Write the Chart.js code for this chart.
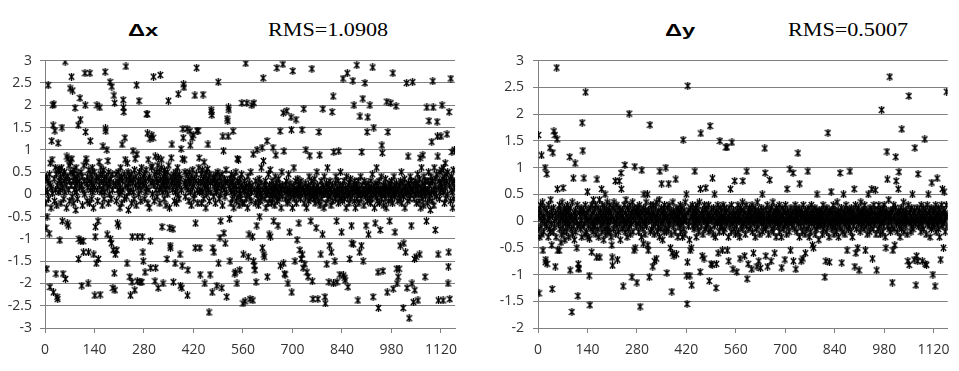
<!DOCTYPE html>
<html>
<head>
<meta charset="utf-8">
<script src="https://cdn.jsdelivr.net/npm/chart.js@4.4.1/dist/chart.umd.min.js"></script>
<style>
html, body { margin: 0; padding: 0; background: #fff; }
body { width: 959px; height: 371px; position: relative; overflow: hidden; }
.box { position: absolute; top: 40px; height: 331px; }
.title { position: absolute; white-space: nowrap; transform-origin: 0 0; line-height: 1; color: #000; }
.delta { font: bold 17px "Liberation Sans", Arial, sans-serif; transform: scaleX(1.4); top: 21px; }
.rms { font: 18px "Liberation Serif", "Times New Roman", serif; transform: scaleX(1.23); top: 20px; }
</style>
</head>
<body>
<div class="title delta" style="left:128px">Δx</div>
<div class="title rms" style="left:268px">RMS=1.0908</div>
<div class="title delta" style="left:665px">Δy</div>
<div class="title rms" style="left:788px">RMS=0.5007</div>
<div class="box" style="left:0;width:470px"><canvas id="chartX"></canvas></div>
<div class="box" style="left:480px;width:479px"><canvas id="chartY"></canvas></div>
<script>
// tick labels
const xTicks = [0, 140, 280, 420, 560, 700, 840, 980, 1120];
const dxTicks = [-3, -2.5, -2, -1.5, -1, -0.5, 0, 0.5, 1, 1.5, 2, 2.5, 3];
const dyTicks = [-2, -1.5, -1, -0.5, 0, 0.5, 1, 1.5, 2, 2.5, 3];

// Δx per point index 0..1159 (40 per row)
const dxValues = [
  0.35,0.1,-0.2,-0.75,0.4,-1.67,-0.5,0.05,0.3,2.45,-0.1,0.25,-0.88,0.45,-2.08,0.7,0.2,-0.3,0.15,1.2,0.78,0.02,2.0,1.55,-2.2,2.02,0.35,-0.15,1.43,0.6,0.1,-1.78,0.45,-0.25,-2.3,0.2,-2.35,1.15,0.55,0.05,
  0.3,0.55,-1.03,0.1,0.4,-0.2,0.25,0.6,1.5,-0.6,0.15,-1.78,0.45,-0.1,0.3,0.5,0.05,2.98,-1.9,0.35,0.2,-0.3,0.85,-0.65,0.4,0.8,-0.7,0.1,0.65,0.3,-0.15,2.38,0.72,0.5,0.2,2.64,0.8,-0.05,2.33,0.45,
  0.3,-0.2,0.55,0.1,0.4,1.94,0.2,-0.35,0.6,0.05,0.35,0.25,-0.1,0.45,1.55,-1.45,-1.0,0.3,0.15,2.16,1.68,-1.05,0.5,0.2,-2.05,0.4,-0.25,0.1,-1.05,-1.3,0.65,0.3,0.0,2.72,2.0,1.4,0.8,0.72,0.25,-0.15,
  0.4,0.15,-2.0,-1.3,0.55,0.3,-0.2,2.72,1.2,0.1,0.45,0.25,-0.1,0.35,0.6,0.05,0.2,-0.3,-1.35,0.5,0.15,-2.27,-0.95,-0.73,0.3,-1.55,0.4,2.0,0.1,-0.15,-0.6,-1.45,0.35,0.73,0.2,1.95,-2.25,0.45,0.6,0.05,
  0.3,0.1,-0.25,0.45,1.08,0.2,0.55,-0.1,0.35,0.05,2.75,1.48,1.42,0.25,0.4,1.0,-0.9,0.15,0.75,-0.2,0.5,0.3,0.0,0.2,2.52,-1.0,0.35,-0.1,-1.1,2.42,0.45,0.1,-2.1,-1.25,0.25,2.22,-1.77,2.05,-2.15,-1.35,
  0.2,0.45,-0.15,-1.25,0.3,-0.65,0.1,0.5,-0.7,0.25,0.0,0.35,-0.3,0.15,0.6,0.05,0.4,-0.2,1.12,0.3,0.1,2.12,1.95,1.85,0.45,-0.1,1.27,0.78,0.2,2.87,0.35,-0.05,-1.55,0.7,0.15,0.5,-0.35,0.25,0.05,0.4,
  -1.85,0.3,-2.27,0.1,0.45,-0.2,-1.97,-0.95,0.25,0.98,0.05,0.35,-0.1,0.55,-2.15,0.8,0.2,0.4,-0.25,2.45,0.9,-1.95,-0.95,0.15,0.3,0.0,2.1,0.5,0.2,-1.97,0.35,-0.15,0.1,0.6,-1.97,-0.95,0.25,-1.3,-1.5,0.4,
  0.2,0.45,-0.1,-1.75,0.3,0.05,0.55,0.15,1.8,1.8,1.37,-0.2,0.78,0.35,0.1,-0.3,0.4,1.25,-1.05,-1.65,0.25,0.6,1.33,0.63,0.0,0.3,1.27,2.64,0.2,-0.15,0.45,-1.95,0.85,-1.65,0.1,0.35,0.5,-0.05,0.25,0.65,
  -2.1,0.82,0.3,0.1,0.5,-0.2,2.68,0.35,0.15,0.6,0.78,-0.73,0.25,0.05,-2.0,0.4,0.2,-0.1,0.55,0.3,0.45,0.1,-0.25,0.35,0.2,-1.45,0.5,0.0,0.3,2.1,0.65,0.15,-0.3,-0.75,-1.15,-1.2,0.4,0.82,0.25,1.12,
  0.3,0.1,-0.78,-1.97,0.45,0.2,-0.15,0.35,-1.55,0.05,0.5,0.25,-0.2,0.4,0.15,0.6,0.0,2.25,0.3,-0.1,0.45,0.2,-1.35,-2.05,0.35,1.02,0.1,-2.1,-1.6,0.8,1.47,1.27,2.47,2.4,0.78,0.25,0.5,-0.05,0.3,0.15,
  0.2,0.45,1.47,-2.27,-1.7,0.1,0.35,-0.15,0.5,0.25,1.42,1.1,0.05,0.3,-0.25,0.4,1.27,0.15,0.55,1.33,0.2,-0.1,0.35,0.0,2.22,-1.2,-0.65,0.3,0.45,2.84,1.43,0.1,-0.2,1.43,0.25,0.6,0.82,0.05,-1.2,-1.8,
  0.3,0.1,0.45,-0.2,0.25,0.55,0.05,2.24,0.35,-0.1,0.72,0.2,-2.0,0.4,0.15,-0.3,0.5,0.0,0.3,0.2,0.57,1.12,0.1,0.35,-2.65,-0.15,0.45,-1.8,0.25,0.05,1.9,1.85,1.78,-2.2,0.3,-1.2,0.4,-0.05,-1.3,0.2,
  0.35,0.1,-0.2,0.45,0.25,0.05,-2.05,0.3,0.15,0.5,2.52,-1.55,0.2,-0.1,0.4,-0.97,0.0,-0.6,0.3,0.15,-2.1,0.45,-0.25,1.3,0.2,0.98,-0.87,0.1,0.35,-0.05,-1.1,0.25,0.55,0.05,-2.3,1.7,0.3,1.65,1.3,1.95,
  1.9,0.2,-0.55,-1.5,0.35,0.1,-0.2,0.45,0.05,0.25,-0.1,0.3,1.42,0.15,-0.3,0.4,0.0,-1.78,-1.75,0.2,0.5,-0.15,0.1,-2.0,0.8,0.3,-0.05,0.78,0.25,-0.25,0.1,-1.7,0.35,0.0,-0.1,0.2,0.45,2.05,0.15,-0.2,
  -2.45,-1.35,0.1,-0.2,0.3,0.05,-2.4,0.15,2.94,-0.1,0.2,2.05,0.0,-0.3,0.4,-1.4,0.1,-0.9,0.25,-0.05,-2.35,0.15,0.5,-0.15,0.05,2.0,0.2,-0.95,-2.38,0.9,-1.5,2.05,-1.6,0.1,-1.7,-0.2,0.3,-1.97,0.0,-0.7,
  1.0,0.15,-0.1,0.2,-0.25,0.05,0.35,-0.5,0.1,0.0,-0.15,0.25,0.6,-0.05,1.05,-1.2,0.1,2.61,0.75,-1.35,-1.4,0.2,-0.1,0.05,0.3,-0.3,0.15,0.0,1.2,-1.85,0.1,-0.2,0.45,0.05,-0.9,0.2,-0.1,0.55,-0.95,0.0,
  0.15,-0.2,0.3,0.05,-0.1,1.05,0.2,-0.6,0.1,0.0,-0.25,0.4,0.15,0.88,-0.05,0.25,2.84,-0.15,0.1,-0.7,0.05,0.35,-0.1,0.2,0.0,1.42,-1.6,0.15,-0.3,0.1,0.5,-0.05,0.2,2.92,1.83,-1.55,0.97,0.1,-1.78,-1.8,
  0.2,-0.1,0.05,0.3,1.87,-0.2,0.1,-2.0,0.0,0.45,-0.15,0.15,-0.85,0.25,0.05,-0.05,1.73,1.45,-2.2,0.1,-0.3,2.77,0.2,0.0,0.6,-0.1,0.15,-1.5,0.05,0.3,1.68,-0.2,0.1,-1.02,0.0,0.35,-0.05,0.2,-0.65,0.1,
  0.05,-1.25,0.2,-0.1,0.3,-1.45,0.0,1.45,-1.35,0.15,-1.65,0.1,1.92,-0.2,0.05,-1.57,0.25,-0.05,1.0,0.15,-0.3,-1.75,0.1,0.0,-1.85,0.2,-0.15,0.4,0.05,0.87,-0.1,0.15,-0.6,0.0,0.3,2.82,-1.95,0.1,-2.35,-0.05,
  0.2,-0.1,0.05,0.35,-0.2,0.1,0.0,-0.75,0.15,0.5,-0.05,0.2,-2.35,0.1,-0.15,1.4,0.05,0.88,-0.25,0.1,-1.35,0.3,0.0,-0.1,0.2,-0.9,1.92,0.05,0.15,-0.3,0.4,0.0,-2.3,-2.45,0.1,-0.2,0.25,-1.57,0.05,0.6,
  -0.1,0.2,0.0,-1.97,0.15,-1.15,0.3,-0.05,0.1,-0.25,-1.3,0.05,1.85,0.2,-0.15,2.2,-2.0,0.95,0.1,0.0,-1.5,0.25,-0.1,0.4,0.05,-0.6,-1.97,0.15,0.0,0.3,-0.2,0.97,0.1,-0.05,-1.8,0.2,0.5,-0.1,0.05,-0.85,
  0.1,-0.15,0.2,2.6,-1.82,0.0,0.3,-0.1,-1.87,-1.93,0.15,0.05,-0.3,0.4,0.1,2.72,-0.05,-2.08,0.2,0.0,-0.2,0.25,-1.45,0.05,0.35,-0.1,0.15,-0.7,-1.1,0.1,0.0,2.55,-1.12,0.2,2.0,-0.15,0.3,0.05,-0.3,0.15,
  0.05,0.2,2.9,-0.1,0.1,-2.38,0.3,0.0,-0.2,0.15,-1.3,1.75,0.05,0.4,-0.1,-1.15,0.95,0.2,0.0,2.15,-1.5,0.1,-0.25,0.3,0.05,2.5,-0.05,0.2,-0.7,0.1,0.0,1.4,-0.15,1.73,0.25,-0.9,0.05,0.15,-0.1,2.0,
  0.1,-0.2,0.3,0.0,0.15,-0.1,0.45,2.85,-2.3,0.05,1.5,0.2,-0.3,0.1,-0.65,0.0,0.25,-0.05,0.6,0.1,-0.15,0.2,-1.75,-2.55,0.05,0.3,-0.2,0.1,-0.8,0.0,0.15,0.4,-0.1,1.1,0.93,0.05,-1.72,0.2,-0.25,0.1,
  0.0,0.2,-0.1,0.35,0.05,-0.3,0.15,2.08,-2.2,0.1,1.4,0.0,-0.15,0.25,0.05,-0.6,0.2,0.1,2.05,-0.1,0.3,0.0,0.15,-0.2,2.72,-2.12,0.05,0.4,-0.05,0.2,-0.85,0.1,0.0,1.98,0.25,-1.67,-2.0,0.1,-0.15,-1.85,
  0.15,0.0,-1.67,0.2,-0.1,-1.15,0.3,0.05,0.5,-0.2,0.1,0.0,0.25,-2.55,-0.05,-1.1,0.15,0.35,-0.3,0.05,-1.3,0.2,0.0,2.5,-2.1,0.1,-0.15,0.85,0.25,0.05,-2.78,0.2,-0.1,0.4,0.0,0.15,-0.7,0.3,-2.0,0.1,
  2.52,0.05,-2.42,0.2,-0.1,-1.45,-2.15,0.3,0.0,0.15,-1.4,-0.2,0.25,0.1,0.45,-2.38,0.0,0.2,-0.15,0.35,-1.35,0.82,0.05,-0.3,0.15,0.6,0.0,-0.1,0.25,0.88,0.1,-0.25,0.4,0.05,0.2,-1.85,-0.05,0.3,0.1,-0.6,
  1.95,0.1,-0.2,0.3,0.05,0.5,1.65,-0.1,0.2,0.0,-0.35,0.25,0.4,0.05,1.18,-0.15,0.3,2.54,1.95,0.1,-0.25,0.6,0.0,0.2,-0.8,0.35,0.1,-0.05,0.45,1.63,1.3,0.85,-1.35,-2.38,0.15,0.3,-0.1,0.5,0.05,0.25,
  1.3,0.2,0.55,2.0,0.1,0.35,-2.38,0.6,0.05,0.4,-0.2,0.25,0.7,0.15,-0.1,0.45,0.3,1.35,0.0,0.5,-2.0,-1.62,-1.3,1.85,0.2,-2.35,0.35,-0.15,2.6,0.1,0.4,0.95,0.05,-0.3,0.25,0.55,-0.1,0.3,1.0,0.15
];

// Δy per point index 0..1159
const dyValues = [
  0.1,1.61,-0.15,-1.35,0.2,-0.3,0.05,0.3,-0.1,0.15,1.23,-0.25,0.0,0.35,-0.55,0.1,-0.2,0.25,0.05,-0.05,1.0,-0.77,-0.72,0.2,-0.1,0.88,-0.8,0.15,0.0,-0.3,0.3,0.05,-0.15,0.1,1.37,-0.2,0.4,-0.05,0.2,-0.45,
  -1.27,0.1,1.28,-0.2,0.25,1.68,0.0,-0.1,1.61,-0.85,0.15,-0.3,0.05,2.87,1.53,0.6,-0.55,0.2,-0.05,0.1,-0.55,0.3,-0.15,0.0,0.2,-0.4,0.1,-0.25,0.35,0.05,-0.1,0.62,0.15,-0.2,0.0,0.25,-0.35,0.1,-0.05,0.2,
  0.05,-0.2,0.15,0.3,-0.1,0.0,0.2,-0.3,0.1,-0.05,1.2,-0.92,0.25,0.05,-0.15,0.1,-1.7,0.35,-0.25,0.0,0.8,-0.1,0.15,-0.35,0.05,1.08,0.2,-0.2,0.1,0.0,-0.5,0.3,-0.1,-1.4,-0.8,-0.88,-0.9,0.15,-0.05,0.2,
  0.1,-0.15,0.25,0.0,-0.3,1.84,0.15,1.32,-0.1,0.2,0.8,-0.05,0.1,-0.25,0.3,2.41,0.05,-0.2,0.15,0.0,0.55,-0.3,0.2,-0.1,0.05,-1.02,-0.33,-1.57,0.25,0.0,-0.15,0.1,-0.58,0.3,-0.05,0.15,-0.2,0.4,0.0,-0.1,
  0.2,-0.1,0.05,0.3,-0.25,0.1,-0.68,0.78,0.0,-0.15,0.25,0.05,-0.3,0.15,0.4,-0.68,0.0,0.2,-0.1,0.1,0.6,-0.2,0.05,0.3,-0.05,0.15,-0.35,0.0,0.25,-0.15,0.5,0.1,-0.25,0.05,0.2,-0.1,0.35,0.0,-0.2,0.15,
  0.05,-0.1,0.2,0.3,-0.2,0.0,0.15,-0.3,0.1,-0.45,-0.68,-0.83,0.25,0.05,-0.15,0.35,0.0,-0.05,0.2,0.75,-0.25,0.1,0.0,0.3,-0.1,-0.72,0.15,0.05,-0.2,0.25,0.75,-0.05,0.1,-0.35,0.2,0.9,0.6,0.0,-0.15,0.1,
  0.2,-1.22,0.05,-0.1,0.3,0.0,1.05,-0.2,0.15,0.4,-0.05,0.1,-0.3,0.25,0.0,-0.15,0.2,0.05,2.01,-0.1,0.3,-0.25,0.1,0.0,0.15,-0.05,-1.05,0.2,0.35,-0.2,0.05,0.1,-0.55,0.25,1.02,-0.5,0.0,0.15,-0.1,0.2,
  -1.15,0.1,0.25,-0.05,0.15,-0.2,0.0,0.3,0.1,-1.6,-0.1,0.2,0.05,-0.3,0.95,0.15,0.0,-0.15,-0.42,0.25,0.5,-0.05,0.1,-0.25,0.2,0.0,0.35,-0.1,0.05,0.15,0.5,-0.45,-0.55,0.2,0.0,-1.05,0.1,1.8,-0.2,0.3,
  0.05,-0.15,0.2,0.0,0.1,-0.85,0.3,-0.1,0.15,-0.25,-0.75,0.05,0.25,-0.05,0.1,-0.7,0.35,0.0,-0.2,0.15,0.05,-0.1,0.2,0.4,-0.3,0.93,0.1,0.0,-0.15,0.25,0.7,-0.05,0.15,-0.35,0.0,0.2,0.1,-0.2,0.3,0.05,
  -0.1,0.15,1.0,0.05,-0.2,-0.97,0.25,0.0,0.1,-0.15,0.7,0.3,-0.05,0.2,0.0,-0.5,0.1,-0.25,0.15,-1.32,-0.6,0.05,0.35,-0.1,0.2,-0.65,0.0,0.15,-0.2,0.1,0.78,0.05,-0.62,0.25,-0.05,0.1,-0.3,0.2,0.0,0.15,
  0.05,-0.1,0.2,0.3,-0.2,0.0,0.15,-0.05,0.25,-0.3,0.1,1.52,0.0,-0.15,0.2,0.05,-0.25,0.35,0.1,0.0,0.5,-1.02,-1.55,-0.77,2.53,0.15,-0.1,0.2,0.0,-0.35,-1.02,-0.55,0.25,0.05,-0.5,-1.2,0.1,0.3,-0.1,0.15,
  0.0,0.2,-0.15,0.1,0.93,-0.05,0.25,0.05,-0.3,0.15,0.0,0.3,-0.1,0.2,0.05,-0.2,0.1,0.35,0.0,-0.95,0.6,1.64,-0.1,0.15,0.05,-0.65,0.2,-0.25,0.1,0.0,-0.7,0.3,0.05,-0.15,0.2,0.62,0.0,-0.1,0.25,0.1,
  -0.05,0.15,0.0,0.3,-0.2,-1.12,0.1,1.78,0.05,-0.15,-0.8,0.2,0.0,-0.82,0.8,0.1,-0.25,0.25,0.05,-0.1,0.5,0.15,-0.3,0.0,-1.25,-0.8,0.2,0.1,-0.05,0.3,-0.6,0.0,0.15,-0.2,0.05,1.5,0.25,-0.1,0.1,0.0,
  0.2,-0.1,-0.55,0.05,0.3,-0.2,0.1,0.0,0.25,-0.15,0.05,0.15,1.38,-0.05,0.2,1.38,-0.55,0.0,0.1,-0.3,-0.75,0.25,0.05,-0.1,0.15,0.6,0.0,-0.2,0.3,1.47,0.1,-0.05,-0.9,0.2,0.0,-0.15,0.1,0.75,0.05,-0.25,
  0.15,0.0,-0.1,-0.95,0.2,0.05,0.3,-0.2,0.1,0.0,0.15,-0.3,-0.7,0.25,0.05,-0.1,0.2,0.0,-0.15,0.35,0.75,0.1,-0.05,0.2,0.0,-0.65,0.15,-0.25,0.05,0.3,-0.1,0.93,-1.08,0.1,0.0,-0.8,0.2,-0.15,0.05,0.25,
  0.0,0.15,-0.1,0.2,0.05,-0.9,0.3,-0.2,0.1,0.0,-0.6,0.25,-0.05,0.15,0.0,-0.3,0.2,0.05,-0.15,0.1,-0.85,0.35,0.0,-0.1,0.2,-0.75,0.1,0.05,-0.25,0.15,-0.88,0.0,0.25,-0.05,0.1,0.5,-0.2,0.05,0.2,-0.1,
  0.1,0.0,1.36,0.9,-0.15,-0.65,0.2,0.05,-0.1,0.3,-0.85,0.0,0.15,-0.25,0.1,0.05,0.77,-0.05,0.2,0.0,-0.75,0.25,-0.15,0.1,0.0,0.35,-0.2,0.05,0.15,-0.1,-0.6,0.2,0.0,0.1,-0.3,0.25,0.05,-0.05,0.15,0.0,
  0.2,-0.1,0.05,0.3,-0.2,0.0,0.15,-0.05,0.1,-0.3,-0.87,0.25,0.0,0.1,-0.15,0.05,0.2,-0.1,0.0,-0.72,0.15,0.3,-0.05,0.1,-0.25,0.6,0.0,0.2,-0.1,0.05,0.15,-0.2,0.0,0.97,0.1,-0.55,0.25,-0.05,0.1,0.0,
  0.15,-0.1,0.9,-0.75,0.05,0.2,0.0,-0.15,0.3,0.1,-0.9,0.0,0.2,-0.2,0.05,0.15,1.27,-0.05,0.1,0.25,-0.3,0.7,0.0,0.15,-0.1,-0.75,0.2,0.05,-0.2,0.1,-0.7,0.3,0.0,-0.1,0.15,0.05,-0.25,-0.6,0.2,0.0,
  0.1,-0.15,0.05,0.2,0.93,0.0,-0.1,0.25,-0.3,0.1,0.0,0.15,-0.2,0.05,0.3,-0.05,0.1,-0.45,0.2,0.0,-0.5,0.15,-0.1,0.05,0.25,-0.25,0.0,0.1,-0.15,0.2,0.5,0.05,-0.1,0.15,0.0,-0.35,0.2,0.1,-0.05,0.0,
  0.15,-0.1,0.0,0.2,0.05,-0.25,0.1,0.3,-0.15,0.0,0.15,-0.05,-1.05,0.2,0.0,-0.75,0.1,-0.2,0.25,0.05,-0.1,1.65,0.15,0.0,-0.3,-0.77,0.2,0.1,-0.05,0.15,0.55,0.0,-0.15,0.2,0.05,-0.1,0.3,0.0,-0.25,0.1,
  0.05,0.2,-0.1,0.0,0.15,-0.2,0.1,0.35,-0.05,0.0,0.2,-0.3,0.1,0.05,-0.1,0.9,0.15,0.0,-0.15,0.25,-0.78,0.05,0.1,-0.2,0.0,0.5,0.15,-0.05,0.2,-0.25,0.1,0.0,0.3,-0.1,0.05,-0.55,0.2,0.0,0.1,-0.15,
  0.2,0.0,-0.1,0.93,0.15,0.05,-0.2,0.25,0.0,0.1,-0.3,0.15,0.05,-0.1,0.2,0.6,0.0,-0.85,0.1,0.3,-0.6,0.05,-0.15,0.2,0.0,-0.5,0.1,0.25,-0.05,-0.92,0.15,0.0,-0.2,0.1,0.35,0.05,-0.1,0.2,0.0,0.15,
  -0.05,0.1,0.2,-0.15,0.0,0.3,0.05,-0.55,0.15,-0.1,0.0,0.2,-0.25,0.1,0.05,0.5,-0.05,0.15,0.0,-0.2,0.25,0.1,-0.1,0.0,0.2,0.6,0.05,-0.7,0.15,-0.15,0.0,0.3,0.1,-0.05,0.2,0.58,0.0,-0.25,0.1,-0.92,
  0.1,0.0,0.2,-0.15,0.05,0.3,-0.1,0.15,0.0,-0.25,0.2,0.1,-0.05,2.08,0.15,0.0,-0.2,0.25,0.05,-0.1,0.3,0.0,0.15,-0.3,0.1,-0.5,0.2,0.05,1.3,0.78,-0.1,0.15,0.0,0.4,-0.15,0.1,2.7,0.05,-0.2,0.2,
  0.0,0.15,-0.1,-1.15,0.2,-0.55,0.05,0.3,-0.15,0.1,-0.45,0.0,0.25,1.2,0.75,-0.05,0.15,-0.2,0.1,0.0,0.6,0.2,0.92,-0.1,0.05,-0.3,0.15,0.0,0.25,-0.15,1.72,0.1,0.0,-0.05,0.2,0.35,-0.2,0.05,0.1,0.0,
  0.15,-0.1,0.2,0.0,0.1,-0.25,0.05,-0.75,0.3,0.0,2.34,-0.82,0.15,-0.05,0.2,0.1,-0.2,0.0,0.25,-0.1,0.5,0.05,-0.15,0.15,0.0,-0.72,0.2,1.37,-0.05,0.1,-1.2,0.0,-0.65,0.25,0.05,-0.75,0.88,-0.1,0.15,0.0,
  0.2,-0.05,0.1,0.0,-0.2,0.3,0.05,-0.1,-0.75,0.15,0.0,0.25,-0.15,0.1,0.05,1.53,-0.8,0.2,0.0,-0.25,-0.82,0.1,0.3,-0.05,0.15,0.5,0.0,-0.1,0.2,0.05,-0.3,0.1,0.0,0.25,-0.15,0.72,0.05,-0.1,-1.0,0.2,
  0.0,0.15,-0.1,0.2,-1.22,0.05,0.3,-0.2,0.1,0.0,0.8,-0.05,0.15,0.25,-0.15,0.0,0.1,-0.3,0.2,0.05,-0.72,0.1,0.0,0.3,-0.1,0.6,0.15,-0.05,-0.5,0.2,0.55,0.0,0.1,-0.2,0.15,0.05,0.3,2.42,-0.1,0.1
];

const AXIS_GREY = '#808080';
const LABEL_FONT = { family: "'Open Sans', sans-serif", size: 14 };

// Excel "star" marker: an X with a vertical stroke through it, drawn a bit heavy
function makeMarker() {
    const c = document.createElement('canvas');
    c.width = 7;
    c.height = 8;
    const g = c.getContext('2d');
    g.strokeStyle = '#000';
    g.lineWidth = 1.3;
    g.beginPath();
    g.moveTo(0.8, 1); g.lineTo(6.2, 7);
    g.moveTo(6.2, 1); g.lineTo(0.8, 7);
    g.moveTo(3.5, 0); g.lineTo(3.5, 8);
    g.stroke();
    return c;
}
const marker = makeMarker();

function makeChart(id, values, yTicks, axisWidth, padRight, yPad) {
    const ctx = document.getElementById(id).getContext('2d');
    return new Chart(ctx, {
        type: 'scatter',
        data: {
            datasets: [{
                data: values.map((v, i) => ({ x: i, y: v })),
                pointStyle: marker,
                pointRadius: 3,
                showLine: false
            }]
        },
        options: {
            responsive: true,
            maintainAspectRatio: false,
            devicePixelRatio: 1,
            animation: false,
            events: [],
            layout: { padding: { top: 20.7, right: padRight, left: 0, bottom: 0 } },
            plugins: { legend: { display: false }, tooltip: { enabled: false } },
            scales: {
                x: {
                    type: 'linear',
                    min: 0,
                    max: 1160,
                    afterBuildTicks: s => { s.ticks = xTicks.map(v => ({ value: v })); },
                    afterFit: s => { s.height = 43; },
                    grid: { drawOnChartArea: false, drawTicks: true, tickLength: 5, color: AXIS_GREY },
                    border: { color: AXIS_GREY },
                    ticks: { color: '#333', font: LABEL_FONT, padding: 9, maxRotation: 0, autoSkip: false,
                             callback: v => String(v) }
                },
                y: {
                    min: yTicks[0],
                    max: yTicks[yTicks.length - 1],
                    afterBuildTicks: s => { s.ticks = yTicks.map(v => ({ value: v })); },
                    afterFit: s => { s.width = axisWidth; },
                    grid: { color: AXIS_GREY, tickLength: 5 },
                    border: { color: AXIS_GREY },
                    ticks: { color: '#333', font: LABEL_FONT, padding: yPad, autoSkip: false,
                             callback: v => String(v) }
                }
            }
        }
    });
}

makeChart('chartX', dxValues, dxTicks, 45, 14.9, 8);
makeChart('chartY', dyValues, dyTicks, 58, 11.2, 9);
</script>
</body>
</html>
